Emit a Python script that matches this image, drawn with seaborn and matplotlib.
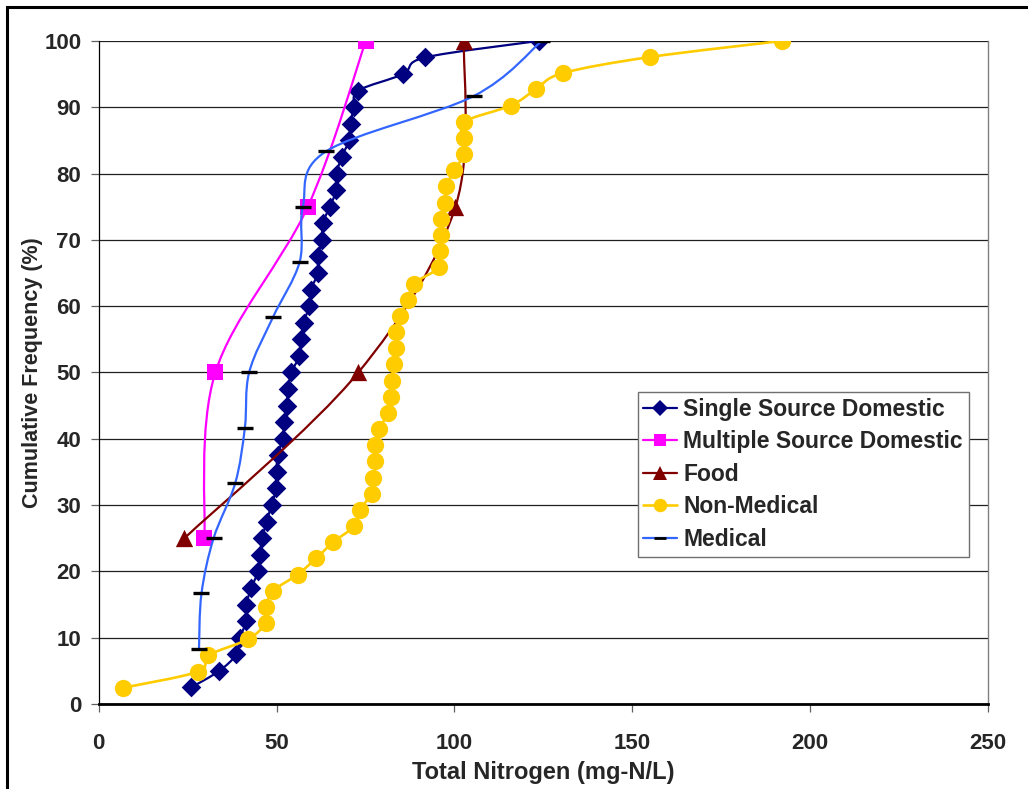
import numpy as np
import pandas as pd
import matplotlib
matplotlib.use("Agg")
import matplotlib.pyplot as plt
from matplotlib.path import Path
from matplotlib.patches import PathPatch, Rectangle
from matplotlib.lines import Line2D
import seaborn as sns

# Cumulative frequency (%) versus total nitrogen (mg-N/L)
single_x = [26.0, 33.9, 38.7, 39.7, 41.5, 41.5, 42.9, 44.8, 45.3, 46.0,
            47.2, 48.6, 49.9, 50.0, 50.3, 51.7, 52.2, 52.9, 53.2, 54.2,
            56.4, 56.9, 57.6, 59.2, 59.7, 61.6, 61.6, 62.8, 63.0, 65.0,
            66.8, 66.9, 68.3, 70.4, 70.8, 71.8, 73.0, 85.6, 91.8, 123.8]
single_y = [2.5, 5.0, 7.5, 10.0, 12.5, 15.0, 17.5, 20.0, 22.5, 25.0,
            27.5, 30.0, 32.5, 35.0, 37.5, 40.0, 42.5, 45.0, 47.5, 50.0,
            52.5, 55.0, 57.5, 60.0, 62.5, 65.0, 67.5, 70.0, 72.5, 75.0,
            77.5, 80.0, 82.5, 85.0, 87.5, 90.0, 92.5, 95.0, 97.5, 100.0]

multiple_x = [29.7, 32.8, 58.8, 75.1]
multiple_y = [25.0, 50.0, 75.0, 100.0]

food_x = [24.1, 73.0, 100.3, 102.7]
food_y = [25.0, 50.0, 75.0, 100.0]

nonmed_x = [6.8, 27.9, 30.8, 41.9, 46.9, 47.0, 49.1, 55.9, 61.1, 65.9,
            71.8, 73.4, 76.7, 77.2, 77.8, 77.8, 78.8, 81.4, 82.1, 82.4,
            83.0, 83.7, 83.7, 84.8, 86.9, 88.7, 95.7, 95.9, 96.3, 96.3,
            97.3, 97.7, 100.0, 102.7, 102.7, 102.7, 115.8, 122.9, 130.4, 154.9,
            192.2]
nonmed_y = [2.44, 4.88, 7.32, 9.76, 12.20, 14.63, 17.07, 19.51, 21.95, 24.39,
            26.83, 29.27, 31.71, 34.15, 36.59, 39.02, 41.46, 43.90, 46.34, 48.78,
            51.22, 53.66, 56.10, 58.54, 60.98, 63.41, 65.85, 68.29, 70.73, 73.17,
            75.61, 78.05, 80.49, 82.93, 85.37, 87.80, 90.24, 92.68, 95.12, 97.56,
            100.0]

medical_x = [28.2, 28.9, 32.3, 38.4, 41.1, 42.3, 49.0, 56.5, 57.4, 63.9, 105.4, 124.6]
medical_y = [8.33, 16.67, 25.0, 33.33, 41.67, 50.0, 58.33, 66.67, 75.0, 83.33, 91.67, 100.0]

x_ticks = [0, 50, 100, 150, 200, 250]
y_ticks = [0, 10, 20, 30, 40, 50, 60, 70, 80, 90, 100]

sns.set_theme(style="white")
plt.rcParams["font.family"] = ["Liberation Sans", "DejaVu Sans"]
plt.rcParams["font.weight"] = "bold"

fig = plt.figure(figsize=(10.28, 7.89), dpi=100)
ax = fig.add_axes([0.096, 0.1077, 0.865, 0.8405])


def smooth_path(xs, ys):
    """Cardinal (Catmull-Rom) Bezier path through the given points."""
    pts = np.column_stack([xs, ys]).astype(float)
    n = len(pts)
    verts = [pts[0]]
    codes = [Path.MOVETO]
    for i in range(n - 1):
        p0 = pts[i - 1] if i > 0 else pts[i]
        p1 = pts[i]
        p2 = pts[i + 1]
        p3 = pts[i + 2] if i + 2 < n else pts[i + 1]
        verts += [p1 + (p2 - p0) / 6.0, p2 - (p3 - p1) / 6.0, p2]
        codes += [Path.CURVE4] * 3
    return Path(verts, codes)


series = [
    # name, xs, ys, line colour, marker, marker colour, marker area, line width
    ("Single Source Domestic", single_x, single_y, "#000080", "D", "#000080", 100, 1.6),
    ("Multiple Source Domestic", multiple_x, multiple_y, "#FF00FF", "s", "#FF00FF", 125, 1.6),
    ("Food", food_x, food_y, "#800000", "^", "#800000", 155, 1.6),
    ("Non-Medical", nonmed_x, nonmed_y, "#FFCC00", "o", "#FFCC00", 155, 1.9),
    ("Medical", medical_x, medical_y, "#3366FF", "_", "#000000", 130, 1.6),
]

handles = []
for k, (name, xs, ys, lc, mk, mc, area, lw) in enumerate(series):
    z = 3 + 2 * k
    ax.add_patch(PathPatch(smooth_path(xs, ys), fill=False, edgecolor=lc,
                           linewidth=lw, zorder=z, capstyle="round"))
    df = pd.DataFrame({"x": xs, "y": ys})
    if mk == "_":
        sns.scatterplot(data=df, x="x", y="y", marker=mk, s=area, color=mc,
                        linewidth=2.4, ax=ax, zorder=z + 1, legend=False)
    else:
        sns.scatterplot(data=df, x="x", y="y", marker=mk, s=area, color=mc,
                        edgecolor=mc, linewidth=0, ax=ax, zorder=z + 1, legend=False)
    handles.append(Line2D([], [], color=lc, linewidth=lw, marker=mk,
                          markersize=np.sqrt(area) * (0.78 if mk != "D" else 0.8),
                          markerfacecolor=mc, markeredgecolor=mc,
                          markeredgewidth=(2.0 if mk == "_" else 0)))

ax.set_xlim(0, 250)
ax.set_ylim(0, 100)
ax.set_xticks(x_ticks)
ax.set_yticks(y_ticks)
ax.yaxis.grid(True, color="#202020", linewidth=0.9)
ax.xaxis.grid(False)
ax.set_axisbelow(True)

for side in ("left", "bottom"):
    ax.spines[side].set_color("black")
ax.spines["left"].set_linewidth(0.9)
ax.spines["bottom"].set_linewidth(2.0)
ax.spines["top"].set_visible(False)
ax.spines["right"].set_color("#808080")
ax.spines["right"].set_linewidth(1.0)

ax.tick_params(axis="y", which="both", left=True, length=5.5, width=0.9,
               color="#606060", pad=7, labelsize=16)
ax.tick_params(axis="x", which="both", bottom=True, length=6, width=0.9,
               color="#606060", pad=15, labelsize=16)
for lab in ax.get_xticklabels() + ax.get_yticklabels():
    lab.set_fontweight("bold")

ax.set_xlabel("Total Nitrogen (mg-N/L)", fontsize=17, fontweight="bold", labelpad=5)
ax.set_ylabel("Cumulative Frequency (%)", fontsize=15.5, fontweight="bold", labelpad=1)

leg = ax.legend(handles, [s[0] for s in series], loc="lower left",
                bbox_to_anchor=(0.606, 0.222), borderaxespad=0, frameon=True,
                fancybox=False, edgecolor="#707070", framealpha=1,
                handlelength=1.45, handletextpad=0.3, labelspacing=0.42,
                borderpad=0.25, prop={"size": 16.5, "weight": "bold"})
leg.get_frame().set_linewidth(1.0)
leg.set_zorder(20)

# outer frame around the chart area
fig.patches.append(Rectangle((7 / 1028, -0.05), 1.1, 1.05 - 7 / 789,
                             transform=fig.transFigure, fill=False,
                             edgecolor="black", linewidth=2.2, zorder=0))

fig.savefig("out.png", dpi=100)
